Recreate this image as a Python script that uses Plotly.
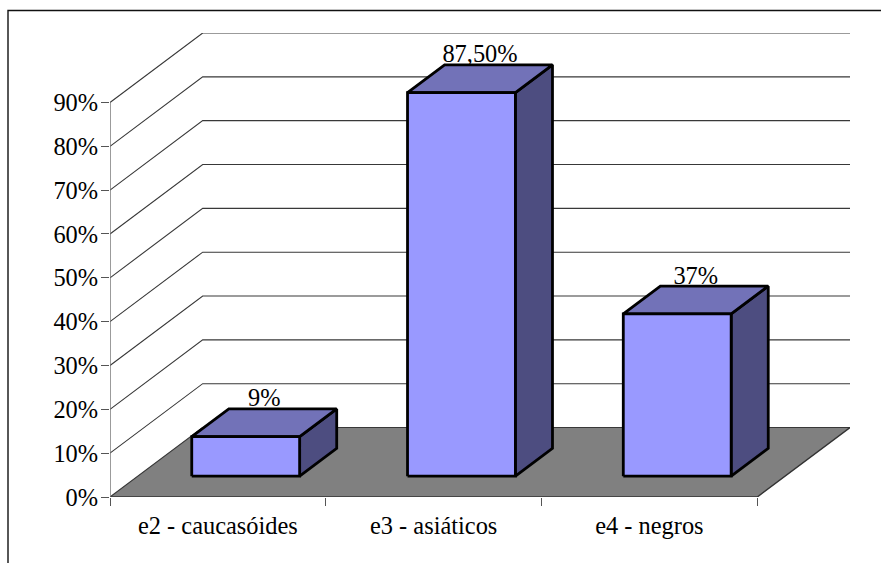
import plotly.graph_objects as go

# Chart data
categories = ["e2 - caucasóides", "e3 - asiáticos", "e4 - negros"]
values = [9, 87.5, 37]
value_labels = ["9%", "87,50%", "37%"]
y_ticks = [0, 10, 20, 30, 40, 50, 60, 70, 80, 90]
y_tick_labels = ["0%", "10%", "20%", "30%", "40%", "50%", "60%", "70%", "80%", "90%"]

# Oblique projection: a point at depth t in [0, 1] is shifted by t * (DX, DY)
DX, DY = 0.4296, 15.85
BAR_T0, BAR_T1 = 0.30, 0.70
BAR_INSET = 0.25
LABEL_T = 0.65

FONT = "Liberation Serif, Times New Roman, serif"
FONT_SIZE = 24.4
FRONT, TOP, SIDE = "#9999FF", "#7272B8", "#4D4D80"
EDGE = "#000000"


def proj(x, v, t):
    return x + t * DX, v + t * DY


def poly(points, fill, line_width=2.8, line_color=EDGE):
    xs, ys = zip(*(points + points[:1]))
    return go.Scatter(x=xs, y=ys, mode="lines", fill="toself", fillcolor=fill,
                      line=dict(color=line_color, width=line_width, shape="linear"),
                      hoverinfo="skip", showlegend=False)


n = len(categories)
fig = go.Figure()

# Floor
fig.add_trace(poly([proj(0, 0, 0), proj(n, 0, 0), proj(n, 0, 1), proj(0, 0, 1)],
                   "#808080", line_width=0))

# Wall gridlines running back from the axis and across the rear
gx, gy = [], []
for v in y_ticks:
    for p in (proj(0, v, 0), proj(0, v, 1), proj(n, v, 1)):
        gx.append(p[0])
        gy.append(p[1])
    gx.append(None)
    gy.append(None)
fig.add_trace(go.Scatter(x=gx, y=gy, mode="lines", line=dict(color="#383838", width=1.1),
                         hoverinfo="skip", showlegend=False))

# Floor edges and value axis
fig.add_trace(go.Scatter(x=[0, n, n + DX], y=[0, 0, DY], mode="lines",
                         line=dict(color="#333333", width=1.4),
                         hoverinfo="skip", showlegend=False))
fig.add_trace(go.Scatter(x=[0, 0], y=[0, y_ticks[-1]], mode="lines",
                         line=dict(color="#707070", width=1.4),
                         hoverinfo="skip", showlegend=False))

# Value labels sit behind the bars
for i, (v, label) in enumerate(zip(values, value_labels)):
    lx = proj(i + 0.5, v, (BAR_T0 + BAR_T1) / 2)[0]
    ly = proj(i + 0.5, v, LABEL_T)[1]
    fig.add_trace(go.Scatter(x=[lx], y=[ly], mode="text", text=[label],
                             textposition="top center", cliponaxis=False,
                             textfont=dict(family=FONT, size=FONT_SIZE, color="#000000"),
                             hoverinfo="skip", showlegend=False))

# Bars: side, top and front faces
for i, v in enumerate(values):
    x0, x1 = i + BAR_INSET, i + 1 - BAR_INSET
    fig.add_trace(poly([proj(x1, 0, BAR_T0), proj(x1, 0, BAR_T1),
                        proj(x1, v, BAR_T1), proj(x1, v, BAR_T0)], SIDE))
    fig.add_trace(poly([proj(x0, v, BAR_T0), proj(x1, v, BAR_T0),
                        proj(x1, v, BAR_T1), proj(x0, v, BAR_T1)], TOP))
    fig.add_trace(poly([proj(x0, 0, BAR_T0), proj(x1, 0, BAR_T0),
                        proj(x1, v, BAR_T0), proj(x0, v, BAR_T0)], FRONT))

W, H = 881, 563
ML, MR, MT, MB = 110, 31, 33, 66
plot_w, plot_h = W - ML - MR, H - MT - MB
FRAME_X, FRAME_Y = 8, 10.5

fig.update_layout(
    width=W, height=H,
    margin=dict(l=ML, r=MR, t=MT, b=MB, pad=0),
    paper_bgcolor="#FFFFFF", plot_bgcolor="#FFFFFF",
    font=dict(family=FONT, size=FONT_SIZE, color="#000000"),
    showlegend=False,
    xaxis=dict(range=[0, n + DX], showgrid=False, zeroline=False, showline=False,
               tickmode="array", tickvals=[i + 0.5 for i in range(n)], ticktext=categories,
               ticks="", ticklabelstandoff=12, tickfont=dict(family=FONT, size=FONT_SIZE),
               minor=dict(tickmode="array", tickvals=list(range(n + 1)), ticks="outside",
                          ticklen=8, tickwidth=1.2, tickcolor="#555555", showgrid=False)),
    yaxis=dict(range=[0, y_ticks[-1] + DY], showgrid=False, zeroline=False, showline=False,
               tickmode="array", tickvals=y_ticks, ticktext=y_tick_labels,
               ticks="outside", ticklen=8, tickwidth=1.2, tickcolor="#555555",
               ticklabelstandoff=-2, tickfont=dict(family=FONT, size=FONT_SIZE)),
    # Outer chart frame: left and top edges run off the page
    shapes=[dict(type="path", xref="paper", yref="paper",
                 path=f"M {(FRAME_X - ML) / plot_w} {-(MB + 2) / plot_h} "
                      f"L {(FRAME_X - ML) / plot_w} {1 + (MT - FRAME_Y) / plot_h} "
                      f"L {(W - ML + 2) / plot_w} {1 + (MT - FRAME_Y) / plot_h}",
                 line=dict(color="#111111", width=1.4), layer="below")],
)

fig.write_html("out.html")
